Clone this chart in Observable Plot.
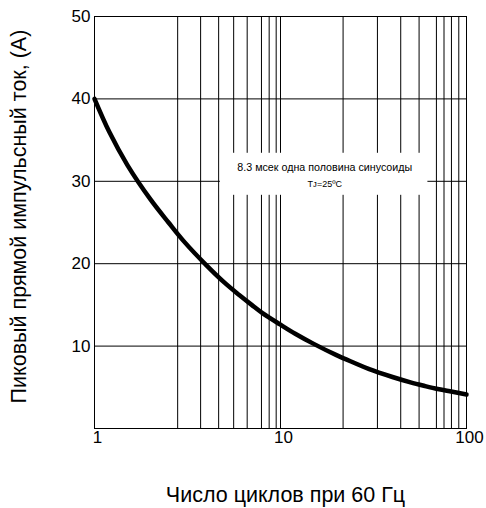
<!DOCTYPE html>
<html>
<head>
<meta charset="utf-8">
<script src="https://cdn.jsdelivr.net/npm/d3@7"></script>
<script src="https://cdn.jsdelivr.net/npm/@observablehq/plot@0.6"></script>
<style>
  html, body { margin: 0; padding: 0; background: #fff; }
  #chart { width: 486px; height: 508px; }
</style>
</head>
<body>
<div id="chart"></div>
<script>
// Curve data
const cycles  = [1, 1.2, 1.5, 2, 2.5, 3, 4, 5, 6, 7, 8, 10, 12, 15, 20, 25, 30, 40, 50, 60, 70, 80, 100];
const current = [40, 36.0, 32.0, 27.8, 25.0, 22.8, 19.8, 17.7, 16.2, 15.0, 14.0, 12.6, 11.5, 10.3, 8.9, 7.95, 7.2, 6.25, 5.6, 5.15, 4.8, 4.55, 4.13];

// Axis ticks
const xTicks = [1, 10, 100];
const yTicks = [10, 20, 30, 40, 50];

// Grid lines as drawn in the picture
const xGrid = [2.8, 3.72, 4.65, 5.6, 6.62, 7.9, 8.69, 9.48, 10, 21.7, 33.2, 44.3, 55.6, 68.9, 75.7, 83.0, 90.9];
const yGrid = [10, 20, 30, 40];

// Texts
const xLabel = "Число циклов при 60 Гц";
const yLabel = "Пиковый прямой импульсный ток, (А)";
const noteLines = ["8.3 мсек одна половина синусоиды", "Tᴊ=25ºC"];

// Annotation box (data units)
const noteBox = [{x1: 4.75, x2: 62, y1: 28.3, y2: 33.4}];
const notePos = [{x: 17.3, y: 31.7, t: noteLines[0]}, {x: 17.3, y: 29.7, t: noteLines[1]}];

const curve = cycles.map((c, i) => ({c, v: current[i]}));

const chart = Plot.plot({
  width: 486,
  height: 508,
  marginLeft: 94,
  marginRight: 20,
  marginTop: 16,
  marginBottom: 80,
  style: {fontFamily: "'Liberation Sans', Arial, sans-serif", fontSize: "17px", color: "#000", background: "#fff"},
  x: {type: "log", domain: [1, 100]},
  y: {domain: [0, 50]},
  marks: [
    Plot.ruleX(xGrid, {x: d => d, stroke: "#000", strokeWidth: 1}),
    Plot.ruleY(yGrid, {y: d => d, stroke: "#000", strokeWidth: 1}),
    Plot.rect(noteBox, {x1: "x1", x2: "x2", y1: "y1", y2: "y2", fill: "#fff"}),
    Plot.text(notePos.slice(0, 1), {x: "x", y: "y", text: "t", fontSize: 10.7, fill: "#000"}),
    Plot.text(notePos.slice(1), {x: "x", y: "y", text: "t", fontSize: 9, fill: "#000"}),
    Plot.line(curve, {x: "c", y: "v", stroke: "#000", strokeWidth: 4.5, curve: "catmull-rom"}),
    Plot.frame({stroke: "#000"}),
    Plot.axisX({ticks: xTicks, tickFormat: d => String(d), tickSize: 0, tickPadding: 2, dx: 3, label: null, fontSize: 17}),
    Plot.axisY({ticks: yTicks, tickFormat: d => String(d), tickSize: 0, tickPadding: 4, label: null, fontSize: 17}),
    Plot.text([xLabel], {text: d => d, frameAnchor: "bottom", dy: 67, dx: 5, lineAnchor: "middle", fontSize: 21.5}),
    Plot.text([yLabel], {text: d => d, frameAnchor: "left", dx: -75, dy: -6, rotate: -90, textAnchor: "middle", lineAnchor: "middle", fontSize: 21.5})
  ]
});
document.getElementById("chart").appendChild(chart);
</script>
</body>
</html>
